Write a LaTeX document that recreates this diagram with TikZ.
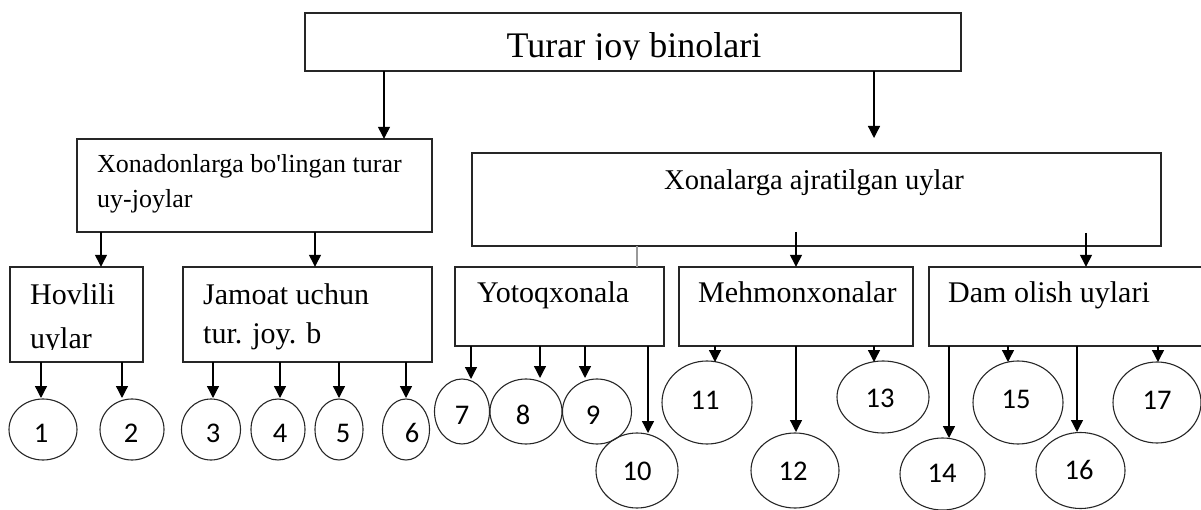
\documentclass[tikz,border=0pt]{standalone}
\usepackage{fontspec}
\setmainfont{Liberation Serif}
\newfontfamily\numfont{Carlito}
\usetikzlibrary{arrows.meta,shapes.geometric}
\begin{document}
\begin{tikzpicture}[x=1pt,y=-1pt,
  box/.style={draw=black!85, line width=1.3pt, inner sep=0pt},
  lbl/.style={anchor=base west, inner sep=0pt},
  oval/.style={draw=black!85, line width=1.1pt, ellipse, inner sep=0pt},
  num/.style={inner sep=0pt, font=\numfont\fontsize{28.5}{28.5}\selectfont},
  arr/.style={draw=black, line width=1.3pt, -{Triangle[width=12pt,length=12pt]}},
  thin/.style={draw=black!40, line width=1.2pt},
]
\useasboundingbox (0,0) rectangle (1201,510);

% boxes
\draw[box] (305,13) rectangle (961,71);
\draw[box] (77,139) rectangle (432,232);
\draw[box] (472,153) rectangle (1161,246);
\draw[box] (10,267) rectangle (143,362);
\draw[box] (183,267) rectangle (432,362);
\draw[box] (455,267) rectangle (664,346);
\draw[box] (679,267) rectangle (913,346);
\draw[box] (929,267) rectangle (1210,346);

% named reference nodes for boxes (invisible anchors)
\node[inner sep=0pt, minimum width=656pt, minimum height=58pt] (T) at (633,42) {};
\node[inner sep=0pt, minimum width=355pt, minimum height=93pt] (A) at (254.5,185.5) {};
\node[inner sep=0pt, minimum width=689pt, minimum height=93pt] (B) at (816.5,199.5) {};
\node[inner sep=0pt, minimum width=133pt, minimum height=95pt] (A1) at (76.5,314.5) {};
\node[inner sep=0pt, minimum width=249pt, minimum height=95pt] (A2) at (307.5,314.5) {};
\node[inner sep=0pt, minimum width=209pt, minimum height=79pt] (B1) at (559.5,306.5) {};
\node[inner sep=0pt, minimum width=234pt, minimum height=79pt] (B2) at (796,306.5) {};
\node[inner sep=0pt, minimum width=281pt, minimum height=79pt] (B3) at (1069.5,306.5) {};

% texts
\begin{scope}
  \clip (305,13) rectangle (961,59.5);
  \node[anchor=base, inner sep=0pt, font=\fontsize{36}{40}\selectfont] (tT) at (634,58) {Turar joy binolari};
\end{scope}
\node[lbl, font=\fontsize{26}{30}\selectfont] (tA1) at (97,173) {Xonadonlarga bo\textquotesingle lingan turar};
\node[lbl, font=\fontsize{26}{30}\selectfont] (tA2) at (97,208) {uy-joylar};
\node[lbl, font=\fontsize{28.6}{32}\selectfont] (tB) at (664,190) {Xonalarga ajratilgan uylar};
\node[lbl, font=\fontsize{30}{34}\selectfont] (tH1) at (30,305) {Hovlili};
\begin{scope}
  \clip (10,320) rectangle (143,349.5);
  \node[lbl, font=\fontsize{30}{34}\selectfont] (tH2) at (30,348) {uylar};
\end{scope}
\node[lbl, font=\fontsize{30}{34}\selectfont] (tJ1) at (203,305) {Jamoat uchun};
\node[lbl, font=\fontsize{30}{34}\selectfont] (tJ2) at (203,343) {tur. joy. b};
\node[lbl, font=\fontsize{30}{34}\selectfont] (tY) at (477,303) {Yotoqxonala};
\node[lbl, font=\fontsize{30}{34}\selectfont] (tM) at (698,303) {Mehmonxonalar};
\node[lbl, font=\fontsize{30}{34}\selectfont] (tD) at (948,303) {Dam olish uylari};

% circles: name/cx/cy/w/h/tx/ty
\foreach \n/\cx/\cy/\w/\h/\tx/\ty in {
  1/43/429.5/68/61/41/433,
  2/132/429.5/64/61/131/433,
  3/211/429.5/59/61/213/433,
  4/278/429.5/54/61/280/433,
  5/339/429.5/48/61/343/433,
  6/406/429.5/47/61/412/433,
  7/462/411.5/55/65/462/415,
  8/526/411.5/72/65/523/415,
  9/597/411.5/69/65/593/415,
  10/637/470.5/82/75/637/471,
  11/707/402.5/90/83/705/400,
  12/795/470.5/88/75/793/471,
  13/883/397/92/72/880/398,
  14/942.5/474/85/72/942/473,
  15/1018/402.5/90/83/1016/399,
  16/1080.5/470.5/89/76/1079/470,
  17/1157/402.5/88/81/1157/400}{
  \node[oval, minimum width=\w pt, minimum height=\h pt] (c\n) at (\cx,\cy) {};
  \node[num] (n\n) at (\tx,\ty) {\n};
}

% connectors from top
\coordinate (free1) at (874,138);
\draw[arr] (384,0 |- T.south) -- (384,0 |- A.north);
\draw[arr] (874,0 |- T.south) -- (free1);

% from A
\draw[arr] (101,0 |- A.south) -- (101,0 |- A1.north);
\draw[arr] (315,0 |- A.south) -- (315,0 |- A2.north);

% from B
\coordinate (s2) at (796,232);
\coordinate (s3) at (1086,233);
\draw[thin] (637,0 |- B.south) -- (637,0 |- B1.north);
\draw[arr] (s2) -- (s2 |- B2.north);
\draw[arr] (s3) -- (s3 |- B3.north);

% to circles
\draw[arr] (41,0 |- A1.south) -- (41,398);
\draw[arr] (122,0 |- A1.south) -- (122,398);
\draw[arr] (213,0 |- A2.south) -- (213,398);
\draw[arr] (280,0 |- A2.south) -- (280,398);
\draw[arr] (339,0 |- A2.south) -- (339,398);
\draw[arr] (406,0 |- A2.south) -- (406,398);

\draw[arr] (471,0 |- B1.south) -- (471,379);
\draw[arr] (540,0 |- B1.south) -- (540,378);
\draw[arr] (585,0 |- B1.south) -- (585,378);
\draw[arr] (648,0 |- B1.south) -- (648,433);

\draw[arr] (715,0 |- B2.south) -- (715,362);
\draw[arr] (796,0 |- B2.south) -- (796,432);
\draw[arr] (874,0 |- B2.south) -- (874,362);

\draw[arr] (949,0 |- B3.south) -- (949,438);
\draw[arr] (1008,0 |- B3.south) -- (1008,362);
\draw[arr] (1077,0 |- B3.south) -- (1077,432);
\draw[arr] (1158,0 |- B3.south) -- (1158,362);
\end{tikzpicture}
\end{document}
